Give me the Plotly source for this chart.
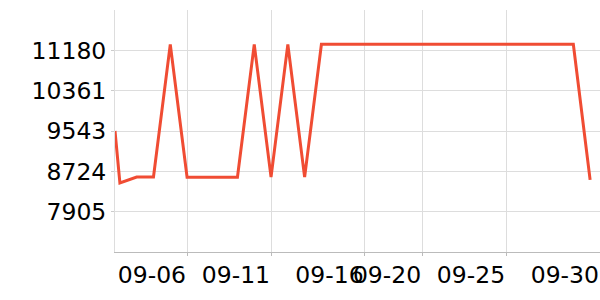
import plotly.graph_objects as go

dates = ["2023-09-01 17:00"] + [f"2023-09-{d:02d}" for d in range(2, 31)]
values = [9543, 8490, 8608, 8608, 11302, 8605, 8605, 8605, 8605, 11302,
          8605, 11302, 8605] + [11302] * 16 + [8550]

x_tick_vals = ["2023-09-06", "2023-09-11", "2023-09-16 13:45", "2023-09-20",
               "2023-09-25", "2023-09-30 14:07"]
x_tick_text = ["09-06", "09-11", "09-16", "09-20", "09-25", "09-30"]
y_tick_vals = [7905, 8723.75, 9542.5, 10361.25, 11180]
y_tick_text = ["7905", "8724", "9543", "10361", "11180"]

fig = go.Figure(go.Scatter(
    x=dates, y=values, mode="lines",
    line=dict(color="#f04c33", width=3),
    cliponaxis=True,
))

fig.update_layout(
    width=600, height=300,
    margin=dict(l=115, r=0, t=10, b=48),
    paper_bgcolor="white", plot_bgcolor="white",
    font=dict(family="DejaVu Sans", size=23.5, color="#000"),
    showlegend=False,
)
fig.update_xaxes(
    type="date",
    range=["2023-09-01 17:00", "2023-09-30 14:07"],
    tickmode="array", tickvals=x_tick_vals, ticktext=x_tick_text,
    tickangle=0,
    ticklabelposition="outside left",
    ticklabeloverflow="allow",
    ticklabelstandoff=2,
    showgrid=True, gridcolor="#dddddd", gridwidth=1,
    showline=True, linecolor="#bbbbbb", linewidth=1,
    ticks="outside", ticklen=3, tickcolor="#bbbbbb",
    zeroline=False,
)
fig.update_yaxes(
    range=[7086.25, 11998.75],
    tickmode="array", tickvals=y_tick_vals, ticktext=y_tick_text,
    showgrid=True, gridcolor="#dddddd", gridwidth=1,
    showline=True, linecolor="#dddddd", linewidth=1,
    ticks="outside", ticklen=3, tickcolor="#cccccc",
    zeroline=False,
)

fig.write_html("out.html")
